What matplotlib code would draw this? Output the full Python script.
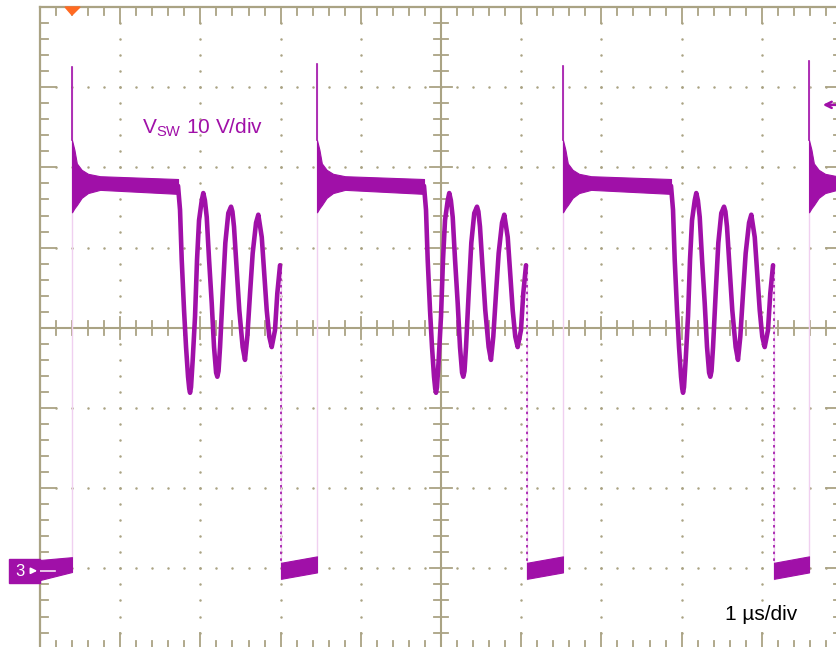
import numpy as np
import matplotlib.pyplot as plt
from matplotlib.patches import Polygon, Rectangle

plt.rcParams['font.family'] = ['Liberation Sans', 'DejaVu Sans']
plt.rcParams['mathtext.fontset'] = 'custom'
plt.rcParams['mathtext.rm'] = 'Liberation Sans'
plt.rcParams['mathtext.it'] = 'Liberation Sans:italic'

# screen: 10 div x 1 us, 8 div x 10 V, ch3 ground at 0 V
# switching events (us)
rise_t = [0.399, 3.454, 6.521, 9.589]
fall_t = [1.721, 4.788, 7.868]
spike_v = [62.5, 62.9, 62.7, 63.3]

# on-state noise envelope after each rising edge (dt in us, V)
plat_dt = [0.0, 0.03, 0.06, 0.12, 0.2, 0.35]
plat_hi = [53.4, 52.2, 50.5, 49.7, 49.2, 48.9]
plat_lo = [44.4, 44.9, 45.3, 46.2, 46.8, 47.2]
plat_end_hi = 48.55
plat_end_lo = 46.7

# ringing after turn-off, dt from fall_t (us) and volts
ring_dt = [0.0, 0.025, 0.046, 0.075, 0.1, 0.125, 0.14, 0.15, 0.162, 0.183,
           0.212, 0.237, 0.262, 0.296, 0.315, 0.335, 0.358, 0.387, 0.42, 0.449,
           0.475, 0.49, 0.505, 0.524, 0.557, 0.59, 0.627, 0.661, 0.678, 0.698,
           0.732, 0.764, 0.806, 0.835, 0.864, 0.898, 0.931, 0.973, 1.001, 1.044,
           1.072, 1.106, 1.138, 1.168, 1.209, 1.238, 1.272]
ring_v = [47.7, 44.7, 38.5, 32.2, 27.6, 23.9, 22.4, 21.9, 22.6, 26.0,
          31.4, 38.5, 43.4, 45.9, 46.8, 45.9, 43.8, 38.5, 33.1, 27.6,
          24.4, 23.9, 24.6, 27.6, 34.3, 40.6, 44.3, 45.1, 44.5, 42.6,
          37.2, 32.2, 27.6, 26.0, 28.9, 34.3, 39.3, 43.1, 44.1, 41.3,
          37.2, 32.2, 28.9, 27.6, 29.7, 34.3, 37.8]
drop_dt = 1.284

# off-state envelope (start, end of each low interval)
low_hi = [0.7, 1.5]
low_lo = [-1.3, -0.5]
pre_hi = [1.05, 1.4]
pre_lo = [-1.45, -0.45]

trig_v = 57.8

purple = '#a010a8'
faint = '#f0d0f0'
grid_c = '#aaa384'

fig = plt.figure(figsize=(8.36, 6.47), dpi=100)
ax = fig.add_axes([40 / 836, -1.6 / 647, 802 / 836, 641.6 / 647])
ax.set_xlim(0, 10)
ax.set_ylim(-10, 70)
ax.axis('off')

# dotted graticule
vv = np.arange(-8, 70, 2)
for t in [1, 2, 3, 4, 6, 7, 8, 9]:
    ax.plot(np.full(len(vv), t), vv, ls='none', marker='o', ms=1.8,
            mec='none', color=grid_c, zorder=1)
tt = np.arange(0.2, 10, 0.2)
for v in [0, 10, 20, 40, 50, 60]:
    ax.plot(tt, np.full(len(tt), v), ls='none', marker='o', ms=1.8,
            mec='none', color=grid_c, zorder=1)

# centre cross with ticks
ax.axvline(5, color=grid_c, lw=1.5, zorder=1)
ax.axhline(30, color=grid_c, lw=1.5, zorder=1)
for k in range(1, 50):
    t = k * 0.2
    major = k % 5 == 0
    h = 1.4 if major else 0.9
    ax.plot([t, t], [30 - h, 30 + h], color=grid_c, lw=1.3, zorder=1)
    L = 2.0 if major else 1.0
    ax.plot([t, t], [70, 70 - L], color=grid_c, lw=1.3, zorder=1, clip_on=False)
    ax.plot([t, t], [-10, -10 + L], color=grid_c, lw=1.3, zorder=1, clip_on=False)
for k in range(1, 40):
    v = -10 + k * 2
    major = k % 5 == 0
    w = 0.14 if major else 0.09
    ax.plot([5 - w, 5 + w], [v, v], color=grid_c, lw=1.3, zorder=1)
    L = 0.2 if major else 0.1
    ax.plot([0, L], [v, v], color=grid_c, lw=1.3, zorder=1, clip_on=False)
    ax.plot([10, 10 - L], [v, v], color=grid_c, lw=1.3, zorder=1, clip_on=False)

# frame
ax.plot([0, 10], [70, 70], color=grid_c, lw=1.6, clip_on=False, zorder=1)
ax.plot([0, 0], [-10, 70], color=grid_c, lw=1.6, clip_on=False, zorder=1)
ax.plot([0, 10], [-10, -10], color=grid_c, lw=1.6, clip_on=False, zorder=1)
ax.plot([10, 10], [-10, 70], color=grid_c, lw=1.6, clip_on=False, zorder=1)

# trace: off-state before first edge
ax.fill_between([0, rise_t[0]], pre_lo, pre_hi, color=purple, lw=0.8,
                edgecolor=purple, zorder=3)
prev_top = pre_hi[1]
for i, tr in enumerate(rise_t):
    # fast rising edge and overshoot spike
    ax.plot([tr, tr], [prev_top, spike_v[i]], color=faint, lw=1.0, zorder=2)
    ax.plot([tr, tr], [plat_hi[0], spike_v[i]], color=purple, lw=1.2, zorder=3)
    end_t = fall_t[i] if i < len(fall_t) else 10.2
    pt = [tr + d for d in plat_dt] + [end_t]
    ax.fill_between(pt, plat_lo + [plat_end_lo], plat_hi + [plat_end_hi],
                    color=purple, lw=0.8, edgecolor=purple, zorder=3)
    if i >= len(fall_t):
        break
    tf = fall_t[i]
    ax.plot([tf + d for d in ring_dt], ring_v, color=purple, lw=3.3,
            solid_joinstyle='round', solid_capstyle='round', zorder=3)
    td = tf + drop_dt
    ax.plot([td, td], [ring_v[-1], low_lo[0]], color=faint, lw=1.0, zorder=2)
    ax.plot([td, td], [ring_v[-1], low_hi[0]], color=purple, lw=1.2,
            ls=(0, (1.5, 2.5)), zorder=3)
    ax.fill_between([td, rise_t[i + 1]], low_lo, low_hi, color=purple, lw=0.8,
                    edgecolor=purple, zorder=3)
    prev_top = low_hi[1]

# markers and labels
ax.add_patch(Polygon([(0.312, 70), (0.499, 70), (0.399, 69.0)], closed=True,
                     color='#ff6a22', clip_on=False, zorder=5))
ax.add_patch(Rectangle((-0.387, -1.82), 0.387, 2.99, color=purple,
                       clip_on=False, zorder=5))
ax.text(-0.255, -0.4, '3', color='white', fontsize=12, ha='center',
        va='center', zorder=6)
ax.annotate('', xy=(0.0, -0.3), xytext=(-0.14, -0.3),
            arrowprops=dict(arrowstyle='-|>', color='white', lw=1.2,
                            mutation_scale=9), annotation_clip=False, zorder=6)
ax.plot([0, 0.19], [-0.3, -0.3], color='#f6e6f6', lw=1.2, zorder=6)
ax.annotate('', xy=(9.726, trig_v), xytext=(10.05, trig_v),
            arrowprops=dict(arrowstyle='->', color=purple, lw=1.8,
                            mutation_scale=11), annotation_clip=False, zorder=6)

ax.text(1.272, 54.2, r'V$_{\rm SW}$ 10 V/div', color=purple, fontsize=15,
        ha='left', va='baseline', zorder=6)
ax.text(8.541, -6.43, '1 µs/div', color='black', fontsize=15,
        ha='left', va='baseline', zorder=6)

fig.savefig('out.png', dpi=100)
